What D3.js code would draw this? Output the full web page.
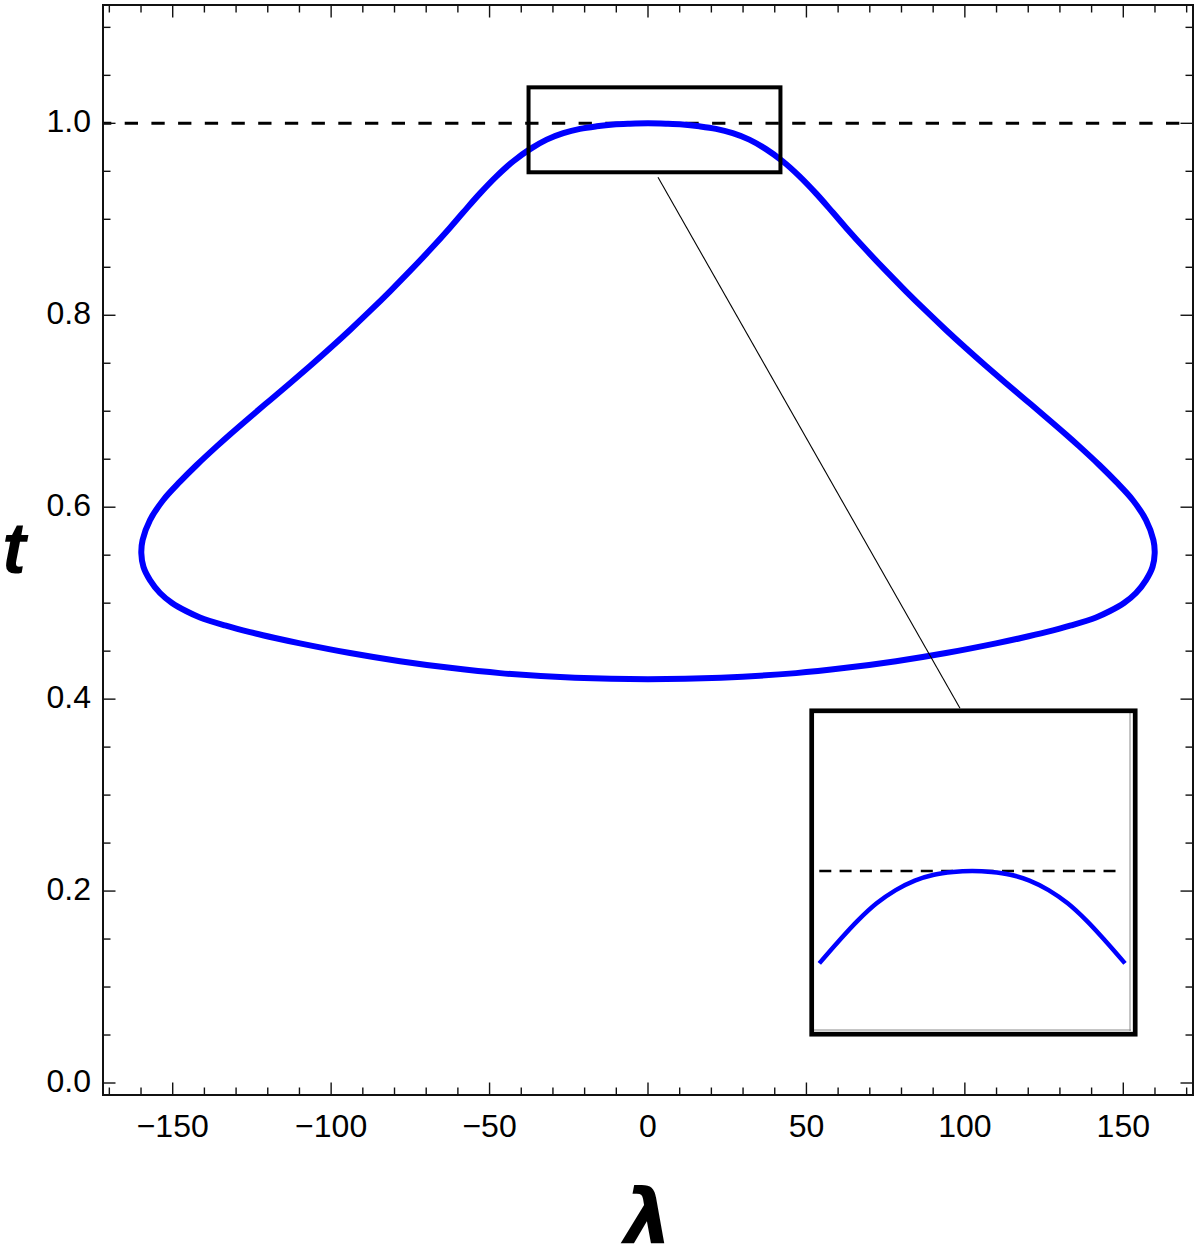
<!DOCTYPE html>
<html>
<head>
<meta charset="utf-8">
<script src="https://cdn.jsdelivr.net/npm/d3@7"></script>
<style>
  html, body { margin: 0; padding: 0; background: #fff; }
  svg { display: block; }
</style>
</head>
<body>
<script>
// ---------------- DATA ----------------
const xMajorTicks = [-150, -100, -50, 0, 50, 100, 150];
const xTickLabels = ["\u2212150", "\u2212100", "\u221250", "0", "50", "100", "150"];
const yMajorTicks = [0, 0.2, 0.4, 0.6, 0.8, 1.0];
const yTickLabels = ["0.0", "0.2", "0.4", "0.6", "0.8", "1.0"];
const xMinorTicks = [-170,-160,-140,-130,-120,-110,-90,-80,-70,-60,-40,-30,-20,-10,10,20,30,40,60,70,80,90,110,120,130,140,160,170];
const yMinorTicks = [0.05,0.1,0.15,0.25,0.3,0.35,0.45,0.5,0.55,0.65,0.7,0.75,0.85,0.9,0.95,1.05,1.1];

// upper branch of the loop (left to right)
const upperLambda = [-159.91, -159.5, -157.17, -152.97, -147.7, -142.43, -136.12, -131.92, -125.61, -119.3, -112.98, -106.67, -100.36,
                     -94.05, -87.74, -81.42, -75.11, -68.8, -62.49, -58.29, -53.02, -47.75, -42.51, -37.24, -31.97, -26.73, -21.46,
                     -16.19, -10.95, -5.68, 0,
                     5.68, 10.95, 16.19, 21.46, 26.73, 31.97, 37.24, 42.51, 47.75, 53.02, 58.29, 62.49, 68.8, 75.11, 81.42, 87.74,
                     94.05, 100.36, 106.67, 112.98, 119.3, 125.61, 131.92, 136.12, 142.43, 147.7, 152.97, 157.17, 159.5, 159.91];
const upperT = [0.5521, 0.5658, 0.5866, 0.6075, 0.6266, 0.644, 0.6634, 0.6758, 0.6938, 0.7115, 0.7291, 0.7471, 0.7656,
                0.7847, 0.8045, 0.825, 0.8462, 0.8682, 0.8913, 0.9073, 0.927, 0.945, 0.9605, 0.9731, 0.983, 0.9897, 0.9942,
                0.9969, 0.9988, 0.9996, 1.0,
                0.9996, 0.9988, 0.9969, 0.9942, 0.9897, 0.983, 0.9731, 0.9605, 0.945, 0.927, 0.9073, 0.8913, 0.8682, 0.8462, 0.825, 0.8045,
                0.7847, 0.7656, 0.7471, 0.7291, 0.7115, 0.6938, 0.6758, 0.6634, 0.644, 0.6266, 0.6075, 0.5866, 0.5658, 0.5521];
// lower branch of the loop (right to left, endpoints shared with the upper branch)
const lowerLambda = [159.22, 157.17, 154.01, 150.22, 145.8, 141.39, 133.5, 125.61, 117.72, 109.83, 94.05, 78.27, 62.49, 46.71, 23.04, 0,
                     -23.04, -46.71, -62.49, -78.27, -94.05, -109.83, -117.72, -125.61, -133.5, -141.39, -145.8, -150.22, -154.01, -157.17, -159.22];
const lowerT = [0.5377, 0.5241, 0.5106, 0.5002, 0.4918, 0.4851, 0.4768, 0.4698, 0.4637, 0.4581, 0.448, 0.4395, 0.4326, 0.4271, 0.4223, 0.4208,
                0.4223, 0.4271, 0.4326, 0.4395, 0.448, 0.4581, 0.4637, 0.4698, 0.4768, 0.4851, 0.4918, 0.5002, 0.5106, 0.5241, 0.5377];

// reference level
const refT = 1.0;

// zoom box (data coords in main plot)
const zoomBoxLambda = [-37.7, 41.8];
const zoomBoxT = [0.949, 1.0375];

// inset curve
const insetLambda = [-40, -35, -30, -25, -20, -15, -10, -5, 0, 5, 10, 15, 20, 25, 30, 35, 40];
const insetT = [0.970, 0.9771, 0.9838, 0.9895, 0.9938, 0.9969, 0.9988, 0.9997, 1.0, 0.9997, 0.9988, 0.9969, 0.9938, 0.9895, 0.9838, 0.9771, 0.970];
const insetRefLambda = [-40, 37.6];

// ---------------- LAYOUT ----------------
const W = 1204, H = 1248;
const frame = { left: 103, right: 1193, top: 5, bottom: 1095 };
const xDomain = [-172, 172];
const yDomain = [-0.0125, 1.1233];

const svg = d3.select("body").append("svg").attr("width", W).attr("height", H);

const x = d3.scaleLinear().domain(xDomain).range([frame.left, frame.right]);
const y = d3.scaleLinear().domain(yDomain).range([frame.bottom, frame.top]);

svg.append("defs").append("clipPath").attr("id", "plotclip")
  .append("rect").attr("x", frame.left).attr("y", frame.top)
  .attr("width", frame.right - frame.left).attr("height", frame.bottom - frame.top);

const plot = svg.append("g").attr("clip-path", "url(#plotclip)");

// reference dashed line
plot.append("line")
  .attr("x1", x(xDomain[0])).attr("x2", x(xDomain[1]))
  .attr("y1", y(refT)).attr("y2", y(refT))
  .attr("stroke", "#000").attr("stroke-width", 3)
  .attr("stroke-dasharray", "13.3,13.4").attr("stroke-dashoffset", 5);

// loop curve
const loopPts = [];
upperLambda.forEach((l, i) => loopPts.push([l, upperT[i]]));
lowerLambda.forEach((l, i) => loopPts.push([l, lowerT[i]]));
const loopLine = d3.line().x(d => x(d[0])).y(d => y(d[1])).curve(d3.curveCatmullRomClosed.alpha(0.5));
plot.append("path").attr("d", loopLine(loopPts))
  .attr("fill", "none").attr("stroke", "#0000ff").attr("stroke-width", 6)
  .attr("stroke-linejoin", "round");

// zoom box
plot.append("rect")
  .attr("x", x(zoomBoxLambda[0])).attr("y", y(zoomBoxT[1]))
  .attr("width", x(zoomBoxLambda[1]) - x(zoomBoxLambda[0]))
  .attr("height", y(zoomBoxT[0]) - y(zoomBoxT[1]))
  .attr("fill", "none").attr("stroke", "#000").attr("stroke-width", 4);

// inset layout
const inset = { left: 811.7, right: 1135.2, top: 710.8, bottom: 1034.2 };
const xi = d3.scaleLinear().domain([-40, 40]).range([819.3, 1125]);
const yi = d3.scaleLinear().domain([0.95, 1.05]).range([1025, 717]);

// connector line
plot.append("line")
  .attr("x1", 658).attr("y1", y(zoomBoxT[0]) + 5)
  .attr("x2", 960).attr("y2", inset.top - 2.5)
  .attr("stroke", "#000").attr("stroke-width", 1.1);

// inset background and frame
const ig = svg.append("g");
ig.append("rect").attr("x", inset.left).attr("y", inset.top)
  .attr("width", inset.right - inset.left).attr("height", inset.bottom - inset.top)
  .attr("fill", "#fff");
ig.append("line").attr("x1", 1130).attr("x2", 1130).attr("y1", 713).attr("y2", 1031)
  .attr("stroke", "#8a8a8a").attr("stroke-width", 1);
ig.append("line").attr("x1", 814).attr("x2", 1131).attr("y1", 1030).attr("y2", 1030)
  .attr("stroke", "#8a8a8a").attr("stroke-width", 1);
ig.append("line")
  .attr("x1", xi(insetRefLambda[0])).attr("x2", xi(insetRefLambda[1]))
  .attr("y1", yi(refT)).attr("y2", yi(refT))
  .attr("stroke", "#000").attr("stroke-width", 2.4)
  .attr("stroke-dasharray", "12,8.3");
const insetLine = d3.line().x((d, i) => xi(insetLambda[i])).y((d, i) => yi(insetT[i])).curve(d3.curveCatmullRom.alpha(0.5));
ig.append("path").attr("d", insetLine(insetLambda))
  .attr("fill", "none").attr("stroke", "#0000ff").attr("stroke-width", 4.5);
ig.append("rect").attr("x", inset.left).attr("y", inset.top)
  .attr("width", inset.right - inset.left).attr("height", inset.bottom - inset.top)
  .attr("fill", "none").attr("stroke", "#000").attr("stroke-width", 4.7);

// ---------------- AXES / FRAME ----------------
const axg = svg.append("g").attr("stroke", "#111").attr("stroke-width", 1.4);
const majLen = 12.5, minLen = 7.5;
xMajorTicks.forEach(v => {
  axg.append("line").attr("x1", x(v)).attr("x2", x(v)).attr("y1", frame.bottom).attr("y2", frame.bottom - majLen);
  axg.append("line").attr("x1", x(v)).attr("x2", x(v)).attr("y1", frame.top).attr("y2", frame.top + majLen);
});
xMinorTicks.forEach(v => {
  axg.append("line").attr("x1", x(v)).attr("x2", x(v)).attr("y1", frame.bottom).attr("y2", frame.bottom - minLen);
  axg.append("line").attr("x1", x(v)).attr("x2", x(v)).attr("y1", frame.top).attr("y2", frame.top + minLen);
});
yMajorTicks.forEach(v => {
  axg.append("line").attr("y1", y(v)).attr("y2", y(v)).attr("x1", frame.left).attr("x2", frame.left + majLen);
  axg.append("line").attr("y1", y(v)).attr("y2", y(v)).attr("x1", frame.right).attr("x2", frame.right - majLen);
});
yMinorTicks.forEach(v => {
  axg.append("line").attr("y1", y(v)).attr("y2", y(v)).attr("x1", frame.left).attr("x2", frame.left + minLen);
  axg.append("line").attr("y1", y(v)).attr("y2", y(v)).attr("x1", frame.right).attr("x2", frame.right - minLen);
});
svg.append("rect").attr("x", frame.left).attr("y", frame.top)
  .attr("width", frame.right - frame.left).attr("height", frame.bottom - frame.top)
  .attr("fill", "none").attr("stroke", "#111").attr("stroke-width", 2);

// tick labels
const font = "'Liberation Sans', Arial, Helvetica, sans-serif";
xMajorTicks.forEach((v, i) => {
  svg.append("text").attr("x", x(v)).attr("y", 1137)
    .attr("text-anchor", "middle").attr("font-family", font).attr("font-size", 32)
    .attr("fill", "#000").text(xTickLabels[i]);
});
yMajorTicks.forEach((v, i) => {
  svg.append("text").attr("x", 91).attr("y", y(v) + 8.5)
    .attr("text-anchor", "end").attr("font-family", font).attr("font-size", 32)
    .attr("fill", "#000").text(yTickLabels[i]);
});

// axis titles
svg.append("text").attr("x", 14).attr("y", 573)
  .attr("text-anchor", "middle").attr("font-family", "'Liberation Sans', Arial, sans-serif")
  .attr("font-weight", "bold").attr("font-style", "italic").attr("font-size", 72)
  .attr("fill", "#000").text("t");
svg.append("text").attr("x", 648).attr("y", 1243)
  .attr("text-anchor", "middle").attr("font-family", "'DejaVu Sans', sans-serif")
  .attr("font-weight", "bold").attr("font-style", "italic").attr("font-size", 76)
  .attr("fill", "#000").text("\u03bb");
</script>
</body>
</html>
